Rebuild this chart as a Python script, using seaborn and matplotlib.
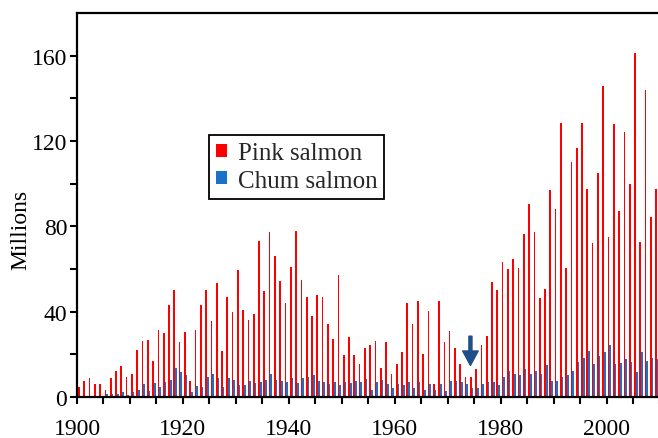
import numpy as np
import pandas as pd
import matplotlib
matplotlib.use("Agg")
import matplotlib.pyplot as plt
from matplotlib.ticker import FixedLocator, MultipleLocator
import seaborn as sns

# Annual catch (millions of fish), 1900-2009
years = list(range(1900, 2010))

pink_salmon = [
    4.5, 7.7, 9.0, 5.9, 5.9, 3.1, 9.0, 12.4, 14.3, 9.6,
    10.6, 22.0, 26.1, 26.7, 16.7, 31.2, 29.8, 43.1, 50.0, 25.6,
    30.3, 7.7, 31.2, 43.1, 50.0, 35.4, 53.6, 21.7, 47.0, 39.7,
    59.4, 40.6, 35.9, 38.7, 72.9, 49.7, 77.4, 66.1, 54.4, 43.9,
    60.8, 77.7, 54.7, 47.0, 37.8, 47.7, 46.7, 34.4, 27.0, 57.0,
    19.6, 28.3, 19.6, 15.4, 22.8, 24.6, 26.1, 13.4, 25.9, 10.9,
    15.7, 21.2, 43.9, 34.4, 45.0, 20.1, 40.1, 6.3, 44.8, 25.7,
    30.8, 23.2, 15.7, 9.6, 9.6, 12.9, 24.6, 28.4, 53.8, 50.0,
    63.1, 60.0, 64.6, 60.3, 76.3, 90.4, 77.2, 46.2, 50.5, 97.0,
    88.0, 128.4, 60.3, 110.0, 116.5, 128.4, 97.6, 72.1, 104.9, 145.9,
    74.9, 127.9, 87.2, 124.2, 99.8, 161.3, 72.5, 143.9, 84.3, 97.3,
]

chum_salmon = [
    np.nan, np.nan, np.nan, np.nan, np.nan, 1.6, 1.2, 1.6, 2.3, 0.8,
    2.3, 3.2, 6.0, 2.7, 6.5, 4.5, 7.0, 8.2, 13.5, 11.5,
    10.4, 2.4, 5.1, 4.8, 9.2, 10.6, 8.8, 4.8, 8.8, 8.2,
    5.4, 5.4, 7.6, 6.7, 7.0, 8.2, 11.0, 8.2, 7.4, 7.1,
    8.7, 6.5, 8.7, 9.5, 10.1, 7.7, 7.1, 5.9, 7.0, 5.4,
    7.1, 6.5, 7.6, 7.1, 8.5, 3.5, 7.1, 8.2, 6.3, 4.0,
    6.3, 5.4, 7.1, 4.3, 7.1, 3.5, 6.3, 3.5, 5.9, 2.9,
    7.3, 7.3, 7.2, 5.9, 4.3, 4.0, 5.9, 7.2, 6.8, 5.4,
    9.3, 12.4, 10.7, 10.1, 12.9, 10.6, 12.4, 10.7, 14.8, 7.7,
    7.7, 9.6, 10.1, 12.0, 16.2, 18.5, 21.4, 15.7, 19.0, 20.9,
    24.3, 15.3, 15.9, 17.9, 16.2, 11.5, 20.9, 17.1, 18.1, 17.7,
]

species = ["Pink salmon", "Chum salmon"]
colors = {"Pink salmon": "#FF0000", "Chum salmon": "#1A72C8"}

# year in which the arrow marks the catch, and the arrow's span in millions
arrow_year = 1974.3
arrow_from, arrow_to = 28.5, 14.8

df = pd.concat([
    pd.DataFrame({"year": years, "catch": pink_salmon, "species": species[0]}),
    pd.DataFrame({"year": years, "catch": chum_salmon, "species": species[1]}),
], ignore_index=True)
# each pair of bars sits just to the right of its year's tick
df["pos"] = df["year"] + 0.535

sns.set_theme(style="ticks")
plt.rcParams["font.family"] = ["Liberation Serif", "DejaVu Serif"]
plt.rcParams["font.size"] = 17

fig = plt.figure(figsize=(6.58, 4.39), dpi=100)
ax = fig.add_axes([77 / 658, 41 / 439, 583 / 658, 384 / 439])

sns.barplot(
    data=df, x="pos", y="catch", hue="species", hue_order=species,
    palette=colors, native_scale=True, dodge=True, width=0.64,
    saturation=1, errorbar=None, linewidth=0, ax=ax,
)

ax.set_xlim(1900, 2010.1)
ax.set_ylim(0, 180)

ax.xaxis.set_major_locator(FixedLocator(range(1900, 2001, 20)))
ax.xaxis.set_minor_locator(MultipleLocator(5))
ax.set_xticklabels([str(y) for y in range(1900, 2001, 20)])
ax.yaxis.set_major_locator(FixedLocator([0, 40, 80, 120, 160]))
ax.yaxis.set_minor_locator(FixedLocator([20, 60, 100, 140]))

ax.tick_params(axis="both", which="both", direction="out", length=5,
               width=1.5, color="black", labelsize=17, labelcolor="black")
ax.tick_params(axis="x", which="both", pad=10)
ax.tick_params(axis="y", which="both", pad=2)

for side in ["left", "top", "bottom"]:
    ax.spines[side].set_linewidth(1.6)
    ax.spines[side].set_color("black")
ax.spines["right"].set_visible(False)

ax.set_xlabel("")
ax.set_ylabel("Millions", fontsize=17, color="black")
ax.yaxis.set_label_coords(-0.079, 0.4375)

handles, labels = ax.get_legend_handles_labels()
leg = ax.legend(
    handles, labels, loc="upper left", bbox_to_anchor=(0.226, 0.682),
    borderaxespad=0, frameon=True, fancybox=False, shadow=False,
    fontsize=18, handlelength=0.45, handleheight=0.42, handletextpad=0.42,
    labelspacing=0.22, borderpad=0.28,
)
leg.get_frame().set_edgecolor("black")
leg.get_frame().set_linewidth(1.3)
leg.get_frame().set_alpha(1)

ax.annotate(
    "", xy=(arrow_year, arrow_to), xytext=(arrow_year, arrow_from),
    arrowprops=dict(arrowstyle="simple,head_length=0.52,head_width=0.56,tail_width=0.11",
                    mutation_scale=20, color="#1F4E8A", shrinkA=0, shrinkB=0),
)

fig.savefig("out.png", dpi=100)
